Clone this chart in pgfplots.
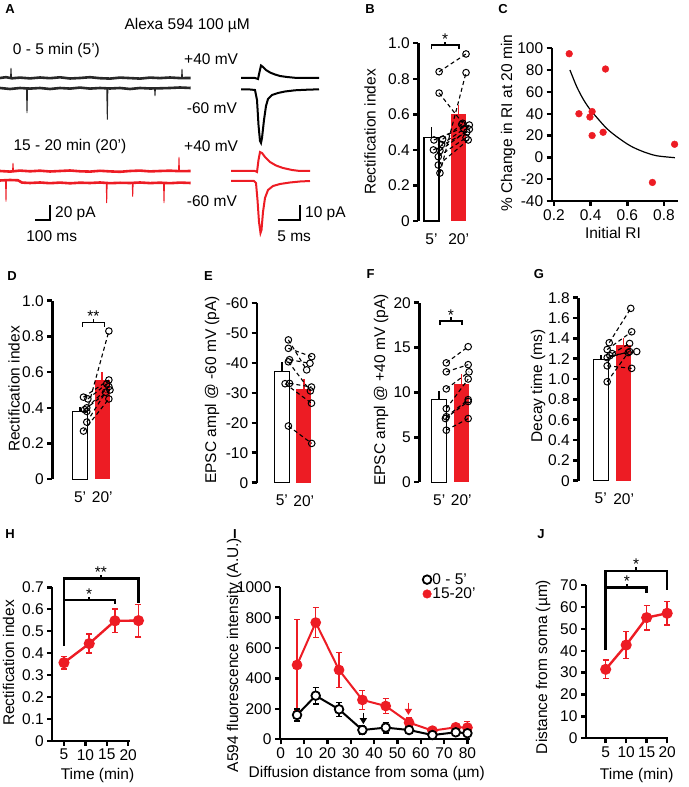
\documentclass[border=0pt]{standalone}
\usepackage{fontspec}
\setmainfont{Liberation Sans}
\usepackage{pgfplots}
\pgfplotsset{compat=1.18}
\usetikzlibrary{arrows.meta}
\definecolor{myred}{RGB}{237,28,36}
\definecolor{trc}{RGB}{40,40,40}
\newcommand{\fs}{\fontsize{15.5}{17}\selectfont}
\newcommand{\lt}{\fontsize{13}{15}\selectfont\bfseries}

\pgfplotsset{
 base/.style={scale only axis, clip=false, anchor=south west,
   axis line style={-, line width=2.4pt},
   tick style={line width=2.4pt, black},
   tick align=outside, major tick length=5pt,
   tick label style={font=\fs},
   /pgf/number format/assume math mode=true,
   /pgf/number format/1000 sep={}},
 barpanel/.style={base, axis y line*=left, axis x line*=bottom,
   x axis line style={draw=none}, xtick={0,1}, xticklabels={5’,20’},
   x tick style={draw=none}, xticklabel style={yshift=-4pt}},
 linepanel/.style={base, axis lines*=left},
 pair/.style={black, line width=1.1pt, dash pattern=on 4pt off 3pt, mark=o, mark size=3.3pt, mark options={solid, line width=1pt}},
 wbar/.style={ybar, bar width=15pt, bar shift=0pt, fill=white, draw=black, line width=1.3pt},
 rbar/.style={ybar, bar width=15pt, bar shift=0pt, fill=myred, draw=none},
 werr/.style={black, line width=1.5pt},
 rerr/.style={myred, line width=1.5pt},
 trthick/.style={line width=2.6pt},
 trthin/.style={line width=0.9pt},
 trmid/.style={line width=2pt},
}

\begin{document}
\begin{tikzpicture}[x=1pt,y=1pt]
\path[use as bounding box] (0,0) rectangle (688,787);

% ---------------- Panel A (traces) ----------------
\begin{axis}[scale only axis, clip=false, anchor=south west, at={(0pt,537pt)},
  width=350pt, height=250pt, xmin=0, xmax=350, ymin=0, ymax=250, y dir=reverse,
  axis lines=none]
% black left upper
\addplot[trc, trthick] coordinates {(0,78)(6,77.2)(12,78.3)(20,77.6)(30,78.4)(40,77.5)(50,78.2)(60,77.3)(70,78.5)(80,78)(90,77.2)(100,78.2)(110,78.6)(120,77.6)(130,78.1)(140,78.6)(150,77.6)(160,78.1)(170,77.5)(180,78.1)(190.7,78)};
\addplot[trc, trthin] coordinates {(10.5,78)(11,68)(11.5,78)};
\addplot[trc, trthin] coordinates {(181.5,78)(182,69)(182.5,78)};
% black left lower
\addplot[trc, trthick] coordinates {(0,88)(10,89)(20,88)(30,88.6)(40,88)(50,89)(60,88)(70,88.6)(80,87.6)(90,88.6)(100,88)(110,88.5)(120,88)(130,89)(140,88)(150,88.5)(160,88.3)(170,88)(180,87.5)(190.7,88)};
\addplot[trc, trthin] coordinates {(26.4,88)(27,113)(27.6,88)};
\addplot[trc, trthin] coordinates {(106.7,88)(107.3,119.5)(107.9,88)};
\addplot[trc, trthin] coordinates {(154.5,88)(155,96)(155.5,88)};
% black right traces
\addplot[black, trmid] coordinates {(241,78)(255,78)(258,79)(259.5,72)(261,65.5)(263,67)(266,70)(270,72.5)(275,74.5)(280,76)(287,77)(295,77.8)(305,78)(319,78)};
\addplot[black, trmid] coordinates {(241,89.5)(250,89.5)(255,90)(257,100)(258.5,125)(260,141)(261,143)(262,138)(264,120)(266,106)(268,99)(272,95)(278,93)(285,91.5)(295,90.3)(305,89.8)(319,89.3)};
% red left upper
\addplot[myred, trthick] coordinates {(0,171)(10,171.6)(20,170.6)(30,171.3)(40,170.7)(50,171.5)(60,171)(70,170.5)(80,171.3)(90,171.6)(100,170.8)(110,171.4)(120,171.8)(130,171)(140,170.6)(150,171.4)(160,171)(170,170.7)(180,171.2)(190.7,171)};
\addplot[myred, trthin] coordinates {(12.5,171)(13,163)(13.5,171)};
\addplot[myred, trthin] coordinates {(178.5,171)(179,157)(179.5,171)};
% red left lower
\addplot[myred, trthick] coordinates {(0,180.5)(10,180)(18,180.3)(22,182.6)(30,183)(40,182.5)(50,183.2)(60,182.6)(70,183.3)(80,182.7)(90,183)(100,182.5)(110,183.2)(120,182.8)(130,183)(140,182.5)(150,183.1)(160,182.7)(170,183.2)(180,182.6)(190.7,183)};
\addplot[myred, trthin] coordinates {(5.5,180.5)(6,201.7)(6.5,180.5)};
\addplot[myred, trthin] coordinates {(106.2,183)(106.7,203)(107.2,183)};
\addplot[myred, trthin] coordinates {(132.2,183)(132.7,196.7)(133.2,183)};
\addplot[myred, trthin] coordinates {(163.5,183)(164,203)(164.5,183)};
% red right traces
\addplot[myred, trmid] coordinates {(231,171)(255,171)(257,172)(258.5,160)(260,152)(262,153)(265,157)(270,162)(276,165.5)(283,168)(292,170)(300,171)(310,171)};
\addplot[myred, trmid] coordinates {(231,181)(254,181)(256,183)(257.5,200)(259,222)(260.5,233)(261.5,230)(263,212)(265,198)(268,190)(273,186)(280,184)(290,182.5)(300,181.5)(310,181)};
% scale bars
\addplot[black, line width=1.5pt] coordinates {(35,220)(50,220)(50,205)};
\addplot[black, line width=1.5pt] coordinates {(277.7,220)(300,220)(300,205)};
\end{axis}

% ---------------- Panel B ----------------
\begin{axis}[barpanel, at={(418.3pt,566pt)}, width=54pt, height=177.7pt,
  xmin=-0.485, xmax=1.5, ymin=0, ymax=1,
  ytick={0,0.2,0.4,0.6,0.8,1}, yticklabels={0,0.2,0.4,0.6,0.8,1.0}]
\addplot[wbar] coordinates {(0,0.47)};
\addplot[rbar] coordinates {(1,0.60)};
\addplot[werr] coordinates {(0,0.47)(0,0.53)};
\addplot[rerr] coordinates {(1,0.60)(1,0.65)};
\addplot[pair] coordinates {(0.28,0.84)(1.27,0.94)};
\addplot[pair] coordinates {(0.28,0.72)(1.15,0.55)};
\addplot[pair] coordinates {(0.31,0.27)(1.27,0.835)};
\addplot[pair] coordinates {(0.41,0.46)(1.11,0.544)};
\addplot[pair] coordinates {(0.09,0.456)(1.39,0.54)};
\addplot[pair] coordinates {(0.37,0.43)(1.19,0.518)};
\addplot[pair] coordinates {(0.31,0.396)(1.39,0.516)};
\addplot[pair] coordinates {(0.25,0.362)(1.27,0.469)};
\addplot[pair] coordinates {(0.25,0.315)(1.35,0.456)};
\addplot[pair] coordinates {(0.07,0.40)(1.30,0.50)};
\draw[line width=1.6pt] (axis cs:0,0.966) -- (axis cs:0,0.99) -- (axis cs:1,0.99) -- (axis cs:1,0.966);
\draw[line width=1.6pt] (axis cs:0.5,0.99) -- (axis cs:0.5,1.01);
\node[anchor=base, inner sep=0pt, font=\fs] at (axis cs:0.5,0.995) {*};
\end{axis}

% ---------------- Panel C ----------------
\begin{axis}[linepanel, at={(551.7pt,586pt)}, width=126pt, height=152.7pt,
  xmin=0.1875, xmax=0.875, ymin=-40, ymax=100,
  xtick={0.2,0.4,0.6,0.8}, xticklabels={0.2,0.4,0.6,0.8},
  ytick={-40,-20,0,20,40,60,80,100}]
\addplot[only marks, mark=*, mark size=3.4pt, myred] coordinates {(0.283,95)(0.481,81)(0.336,40)(0.408,42)(0.396,37)(0.408,20)(0.468,23)(0.858,12)(0.737,-23)};
\addplot[black, line width=1.2pt, smooth] coordinates {(0.287,80.1)(0.324,64.8)(0.360,53.2)(0.396,44.1)(0.433,36.7)(0.487,26.6)(0.542,19.0)(0.615,10.7)(0.687,5.2)(0.760,1.5)(0.860,-0.3)};
\end{axis}

% ---------------- Panel D ----------------
\begin{axis}[barpanel, at={(52.3pt,307.7pt)}, width=63.2pt, height=178.6pt,
  xmin=-1.26, xmax=1.6, ymin=0, ymax=1,
  ytick={0,0.2,0.4,0.6,0.8,1}, yticklabels={0,0.2,0.4,0.6,0.8,1.0}]
\addplot[wbar] coordinates {(0,0.38)};
\addplot[rbar] coordinates {(1,0.555)};
\addplot[werr] coordinates {(0,0.38)(0,0.405)};
\addplot[rerr] coordinates {(1,0.555)(1,0.60)};
\addplot[pair] coordinates {(0.3,0.38)(1.3,0.83)};
\addplot[pair] coordinates {(0.15,0.46)(1.3,0.556)};
\addplot[pair] coordinates {(0.35,0.45)(1.2,0.534)};
\addplot[pair] coordinates {(0.3,0.40)(1.3,0.519)};
\addplot[pair] coordinates {(0.2,0.39)(1.35,0.50)};
\addplot[pair] coordinates {(0.3,0.32)(1.15,0.487)};
\addplot[pair] coordinates {(0.15,0.27)(1.3,0.45)};
\draw[line width=1.6pt] (axis cs:0.1,0.854) -- (axis cs:0.1,0.877) -- (axis cs:1.1,0.877) -- (axis cs:1.1,0.854);
\draw[line width=1.6pt] (axis cs:0.6,0.877) -- (axis cs:0.6,0.895);
\node[anchor=base, inner sep=0pt, font=\fs] at (axis cs:0.6,0.882) {**};
\end{axis}

% ---------------- Panel E ----------------
\begin{axis}[barpanel, at={(256.7pt,304.3pt)}, width=60.3pt, height=180pt,
  xmin=-1.14, xmax=1.6, ymin=-60, ymax=0, y dir=reverse,
  ytick={-60,-50,-40,-30,-20,-10,0}]
\addplot[wbar] coordinates {(0,-37)};
\addplot[rbar] coordinates {(1,-31.2)};
\addplot[werr] coordinates {(0,-37)(0,-40.3)};
\addplot[rerr] coordinates {(1,-31.2)(1,-34.5)};
\addplot[pair] coordinates {(0.3,-47.6)(1.13,-37.6)};
\addplot[pair] coordinates {(0.3,-44.8)(1.36,-42)};
\addplot[pair] coordinates {(0.35,-41)(1.28,-39.8)};
\addplot[pair] coordinates {(0.3,-40.3)(1.3,-30.6)};
\addplot[pair] coordinates {(0.35,-33.1)(1.35,-31.9)};
\addplot[pair] coordinates {(0.15,-33)(1.35,-26.5)};
\addplot[pair] coordinates {(0.3,-18.9)(1.36,-13.1)};
\end{axis}

% ---------------- Panel F ----------------
\begin{axis}[barpanel, at={(419.3pt,304.7pt)}, width=55.3pt, height=179.6pt,
  xmin=-0.9, xmax=1.6, ymin=0, ymax=20, ytick={0,5,10,15,20}]
\addplot[wbar] coordinates {(0,9.2)};
\addplot[rbar] coordinates {(1,10.95)};
\addplot[werr] coordinates {(0,9.2)(0,10.2)};
\addplot[rerr] coordinates {(1,10.95)(1,12.05)};
\addplot[pair] coordinates {(0.32,13.3)(1.31,15.1)};
\addplot[pair] coordinates {(0.32,12.3)(1.31,13.1)};
\addplot[pair] coordinates {(0.32,10.4)(1.35,12.3)};
\addplot[pair] coordinates {(0.32,8.2)(1.31,11.5)};
\addplot[pair] coordinates {(0.32,7.3)(1.31,9.2)};
\addplot[pair] coordinates {(0.28,7.1)(1.31,9.0)};
\addplot[pair] coordinates {(0.32,5.8)(1.31,7.1)};
\draw[line width=1.6pt] (axis cs:0.04,17.5) -- (axis cs:0.04,17.96) -- (axis cs:1.02,17.96) -- (axis cs:1.02,17.5);
\draw[line width=1.6pt] (axis cs:0.53,17.96) -- (axis cs:0.53,18.4);
\node[anchor=base, inner sep=0pt, font=\fs] at (axis cs:0.53,18.05) {*};
\end{axis}

% ---------------- Panel G ----------------
\begin{axis}[barpanel, at={(578.3pt,306.3pt)}, width=59.1pt, height=183pt,
  xmin=-0.98, xmax=1.6, ymin=0, ymax=1.8,
  ytick={0,0.2,0.4,0.6,0.8,1,1.2,1.4,1.6,1.8},
  yticklabels={0,0.2,0.4,0.6,0.8,1.0,1.2,1.4,1.6,1.8}]
\addplot[wbar] coordinates {(0,1.194)};
\addplot[rbar] coordinates {(1,1.334)};
\addplot[werr] coordinates {(0,1.194)(0,1.24)};
\addplot[rerr] coordinates {(1,1.334)(1,1.40)};
\addplot[pair] coordinates {(0.37,1.357)(1.31,1.695)};
\addplot[pair] coordinates {(0.28,1.29)(1.35,1.465)};
\addplot[pair] coordinates {(0.5,1.25)(1.26,1.35)};
\addplot[pair] coordinates {(0.28,1.21)(1.26,1.27)};
\addplot[pair] coordinates {(0.4,1.23)(1.57,1.27)};
\addplot[pair] coordinates {(0.28,1.13)(1.35,1.105)};
\addplot[pair] coordinates {(0.28,0.973)(1.2,1.26)};
\end{axis}

% ---------------- Panel H ----------------
\begin{axis}[linepanel, at={(52.3pt,46.3pt)}, width=77.6pt, height=153.4pt,
  xmin=2.27, xmax=20.4, ymin=0, ymax=0.7,
  xtick={5,10,15,20},
  ytick={0,0.1,0.2,0.3,0.4,0.5,0.6,0.7}, yticklabels={0,0.1,0.2,0.3,0.4,0.5,0.6,0.7}]
\addplot[myred, line width=2.4pt, mark=*, mark size=4.3pt,
  error bars/.cd, y dir=both, y explicit,
  error bar style={line width=1.5pt, myred},
  error mark options={rotate=90, myred, mark size=3pt, line width=1.5pt}]
  coordinates {(5,0.356) +- (0,0.029) (10.9,0.443) +- (0,0.043) (16.9,0.547) +- (0,0.054) (22.4,0.548) +- (0,0.074)};
\draw[line width=2.4pt, line join=miter] (axis cs:5,0.432) -- (axis cs:5,0.741) -- (axis cs:22.4,0.741) -- (axis cs:22.4,0.627);
\draw[line width=2.4pt, line join=miter] (axis cs:5,0.642) -- (axis cs:16.9,0.642) -- (axis cs:16.9,0.624);
\draw[line width=1.8pt] (axis cs:13.6,0.741) -- (axis cs:13.6,0.757);
\draw[line width=1.8pt] (axis cs:10.9,0.642) -- (axis cs:10.9,0.657);
\node[anchor=base, inner sep=0pt, font=\fs] at (axis cs:13.6,0.745) {**};
\node[anchor=base, inner sep=0pt, font=\fs] at (axis cs:10.9,0.646) {*};
\end{axis}

% ---------------- Panel I ----------------
\begin{axis}[linepanel, at={(280pt,47.7pt)}, width=190pt, height=152pt,
  xmin=-0.3, xmax=81.1, ymin=0, ymax=1000,
  xtick={0,10,20,30,40,50,60,70,80}, ytick={0,200,400,600,800,1000},
  legend style={draw=none, fill=none, font=\fs, at={(axis cs:59.5,1112)}, anchor=north west,
    nodes={inner sep=1pt}, row sep=0pt},
  legend cell align=left,
  legend image code/.code={\draw[mark repeat=2,mark phase=2,#1] plot coordinates {(0pt,0pt) (5pt,0pt) (11pt,0pt)};}]
\addlegendimage{only marks, mark=*, mark size=4.3pt, mark options={fill=white, draw=black, line width=1.8pt}}
\addlegendentry{0 - 5’}
\addlegendimage{only marks, mark=*, mark size=4.3pt, myred}
\addlegendentry{15-20’}
\addplot[forget plot, myred, line width=2pt, mark=*, mark size=4.3pt,
  error bars/.cd, y dir=both, y explicit,
  error bar style={line width=1.5pt, myred},
  error mark options={rotate=90, myred, mark size=3pt, line width=1.5pt}]
  coordinates {(7,489) +- (0,300) (15,768) +- (0,98) (25,456) +- (0,115) (35,259) +- (0,63) (45,219) +- (0,48) (55,110) +- (0,30) (65,57) +- (0,10) (75,79) +- (0,12) (80,77) +- (0,40)};
\addplot[forget plot, black, line width=2pt, mark=*, mark size=4.3pt, mark options={fill=white, line width=1.8pt},
  error bars/.cd, y dir=both, y explicit,
  error bar style={line width=1.5pt, black},
  error mark options={rotate=90, black, mark size=3pt, line width=1.5pt}]
  coordinates {(7,160) +- (0,40) (15,287) +- (0,54) (25,197) +- (0,46) (35,61) +- (0,30) (45,77) +- (0,35) (55,61) +- (0,15) (65,28) +- (0,12) (75,46) +- (0,10) (80,40) +- (0,12)};
\draw[-{Triangle[width=7pt,length=6pt]}, line width=1.6pt, black] (axis cs:35.4,170) -- (axis cs:35.4,100);
\draw[-{Triangle[width=7pt,length=6pt]}, line width=1.6pt, myred] (axis cs:54.7,241) -- (axis cs:54.7,160);
\end{axis}

% ---------------- Panel J ----------------
\begin{axis}[linepanel, at={(586pt,48.7pt)}, width=82pt, height=153.3pt,
  xmin=0.2, xmax=20.2, ymin=0, ymax=70,
  xtick={5,10,15,20}, ytick={0,10,20,30,40,50,60,70}]
\addplot[myred, line width=2.4pt, mark=*, mark size=4.3pt,
  error bars/.cd, y dir=both, y explicit,
  error bar style={line width=1.5pt, myred},
  error mark options={rotate=90, myred, mark size=3pt, line width=1.5pt}]
  coordinates {(5,31.5) +- (0,4.2) (10,42.6) +- (0,6.1) (15,55.1) +- (0,5.6) (20,57.1) +- (0,5.3)};
\draw[line width=2.4pt, line join=miter] (axis cs:5,40.3) -- (axis cs:5,76.5) -- (axis cs:20,76.5) -- (axis cs:20,67.7);
\draw[line width=2.4pt, line join=miter] (axis cs:5,68.8) -- (axis cs:15,68.8) -- (axis cs:15,66.2);
\draw[line width=1.8pt] (axis cs:12.4,76.5) -- (axis cs:12.4,78.2);
\draw[line width=1.8pt] (axis cs:10.2,68.8) -- (axis cs:10.2,70.5);
\node[anchor=base, inner sep=0pt, font=\fs] at (axis cs:12.4,77.2) {*};
\node[anchor=base, inner sep=0pt, font=\fs] at (axis cs:10.2,69.5) {*};
\end{axis}

% ---------------- Text ----------------
\tikzset{tx/.style={inner sep=0pt, font=\fs}, lab/.style={inner sep=0pt, font=\fs, rotate=90}}
\node[tx] at (187.2,761) {Alexa 594 100 µM};
\node[tx, anchor=west] at (12.7,737) {0 - 5 min (5’)};
\node[tx, anchor=west] at (184,727.7) {+40 mV};
\node[tx, anchor=west] at (186.7,678.7) {-60 mV};
\node[tx, anchor=west] at (13.3,640.3) {15 - 20 min (20’)};
\node[tx, anchor=west] at (184,641.3) {+40 mV};
\node[tx, anchor=west] at (186.7,586) {-60 mV};
\node[tx, anchor=west] at (55,573) {20 pA};
\node[tx] at (51.7,551) {100 ms};
\node[tx, anchor=west] at (305,573) {10 pA};
\node[tx] at (294.2,551) {5 ms};

\node[lab] at (370,655) {Rectification index};
\node[lab] at (508,664) {\% Change in RI at 20 min};
\node[tx] at (613,554) {Initial RI};
\node[lab] at (14,398) {Rectification index};
\node[lab] at (212,397) {EPSC ampl @ -60 mV (pA)};
\node[lab] at (381,397) {EPSC ampl @ +40 mV (pA)};
\node[lab] at (538,401) {Decay time (ms)};
\node[lab] at (8.5,124) {Rectification index};
\node[tx] at (97.5,12) {Time (min)};
\node[lab] at (234,132) {A594 fluorescence intensity (A.U.)};
\node[tx] at (366.7,14) {Diffusion distance from soma (µm)};
\node[lab] at (543,120) {Distance from soma (µm)};
\node[tx] at (636.7,12) {Time (min)};

\node[font=\lt, inner sep=0pt] at (10,777.5) {A};
\node[font=\lt, inner sep=0pt] at (370,777.5) {B};
\node[font=\lt, inner sep=0pt] at (503,777.5) {C};
\node[font=\lt, inner sep=0pt] at (12,511) {D};
\node[font=\lt, inner sep=0pt] at (208.5,511) {E};
\node[font=\lt, inner sep=0pt] at (370.5,513) {F};
\node[font=\lt, inner sep=0pt] at (539,513) {G};
\node[font=\lt, inner sep=0pt] at (10,253) {H};
\node[font=\lt, inner sep=0pt] at (235,253) {I};
\node[font=\lt, inner sep=0pt] at (541,253) {J};
\end{tikzpicture}
\end{document}
